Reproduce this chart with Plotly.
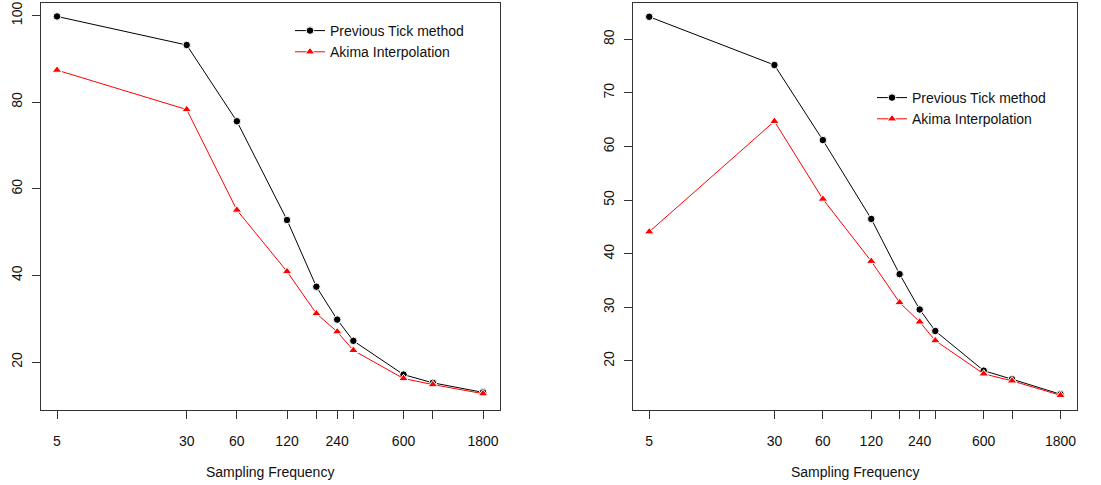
import plotly.graph_objects as go

freq = [5, 30, 60, 120, 180, 240, 300, 600, 900, 1800]
tick_vals = [5, 30, 60, 120, 180, 240, 300, 600, 900, 1800]
tick_text = ["5", "30", "60", "120", "", "240", "", "600", "", "1800"]

left_prev = [99.8, 93.2, 75.6, 52.8, 37.4, 29.8, 24.9, 17.1, 15.2, 13.0]
left_akima = [87.4, 78.3, 55.1, 40.9, 31.2, 27.0, 22.7, 16.2, 14.8, 12.7]
right_prev = [84.2, 75.2, 61.2, 46.5, 36.2, 29.6, 25.6, 18.2, 16.6, 13.8]
right_akima = [44.1, 64.7, 50.2, 38.6, 30.9, 27.3, 23.8, 17.6, 16.3, 13.6]

left_yticks = [20, 40, 60, 80, 100]
right_yticks = [20, 30, 40, 50, 60, 70, 80]

FONT = "Liberation Sans, Arial, sans-serif"
TXT = "#111"
W, H = 1101, 485

fig = go.Figure()

def add_pair(prev, akima, xa, ya, legend, show):
    fig.add_trace(go.Scatter(
        x=freq, y=prev, mode="lines+markers", name="Previous Tick method",
        line=dict(color="black", width=1),
        marker=dict(symbol="circle", size=7.5, color="black",
                    line=dict(color="white", width=1)),
        xaxis=xa, yaxis=ya, legend=legend, showlegend=show))
    fig.add_trace(go.Scatter(
        x=freq, y=akima, mode="lines+markers", name="Akima Interpolation",
        line=dict(color="red", width=1),
        marker=dict(symbol="triangle-up", size=8.5, color="red",
                    line=dict(color="white", width=1)),
        xaxis=xa, yaxis=ya, legend=legend, showlegend=show))

add_pair(left_prev, left_akima, "x", "y", "legend", True)
add_pair(right_prev, right_akima, "x2", "y2", "legend2", True)

ydom = [1 - 410 / H, 1 - 3 / H]
axis_common = dict(showgrid=False, zeroline=False, showline=True, mirror=True,
                   linecolor="#333", linewidth=1, ticks="outside", ticklen=8,
                   tickcolor="#333", tickfont=dict(family=FONT, size=14, color=TXT))

fig.update_layout(
    width=W, height=H,
    margin=dict(l=0, r=0, t=0, b=0),
    paper_bgcolor="white", plot_bgcolor="white",
    font=dict(family=FONT, size=14, color=TXT),
    xaxis=dict(domain=[41 / W, 500 / W], type="log", range=[0.603, 3.357],
               tickvals=tick_vals, ticktext=tick_text, anchor="y",
               ticklabelstandoff=10, **axis_common),
    yaxis=dict(domain=ydom, range=[8.93, 102.9], tickvals=left_yticks,
               tickangle=-90, anchor="x", ticklabelstandoff=4, **axis_common),
    xaxis2=dict(domain=[633 / W, 1077 / W], type="log", range=[0.598, 3.358],
                tickvals=tick_vals, ticktext=tick_text, anchor="y2",
                ticklabelstandoff=10, **axis_common),
    yaxis2=dict(domain=ydom, range=[10.86, 86.77], tickvals=right_yticks,
                tickangle=-90, anchor="x2", ticklabelstandoff=4, **axis_common),
    legend=dict(x=290 / W, y=1 - 15 / H, xanchor="left", yanchor="top",
                bgcolor="rgba(0,0,0,0)", font=dict(family=FONT, size=14, color=TXT)),
    legend2=dict(x=872 / W, y=1 - 82 / H, xanchor="left", yanchor="top",
                 bgcolor="rgba(0,0,0,0)", font=dict(family=FONT, size=14, color=TXT)),
    annotations=[
        dict(text="Sampling Frequency", x=270 / W, y=1 - 472 / H, xref="paper", yref="paper",
             showarrow=False, xanchor="center", yanchor="middle",
             font=dict(family=FONT, size=14, color=TXT)),
        dict(text="Sampling Frequency", x=855 / W, y=1 - 472 / H, xref="paper", yref="paper",
             showarrow=False, xanchor="center", yanchor="middle",
             font=dict(family=FONT, size=14, color=TXT)),
    ],
)

fig.write_html("out.html")
